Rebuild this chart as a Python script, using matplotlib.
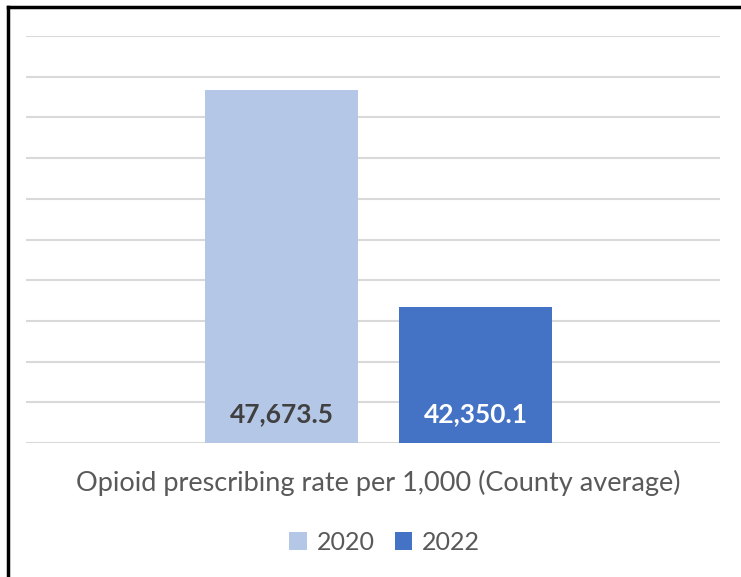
import matplotlib.pyplot as plt
from matplotlib.patches import Patch
from matplotlib.lines import Line2D

# data
series = ['2020', '2022']
values = [47673.5, 42350.1]
labels = ['47,673.5', '42,350.1']
colors = ['#b4c7e7', '#4472c4']
label_colors = ['#404040', '#ffffff']
category = 'Opioid prescribing rate per 1,000 (County average)'

plt.rcParams['font.family'] = ['Lato', 'DejaVu Sans']

fig = plt.figure(figsize=(7.41, 5.77), dpi=100)
ax = fig.add_axes([0.0351, 0.2322, 0.9366, 0.7054])

offsets = [-0.634, 0.634]
bars = ax.bar(offsets, [v - 39000 for v in values], bottom=39000, width=1.0,
              color=colors, zorder=3)

for x, lab, c in zip(offsets, labels, label_colors):
    ax.text(x, 39700, lab, ha='center', va='center', fontsize=19,
            fontweight='bold', color=c, zorder=4)

ax.set_ylim(39000, 49000)
ax.set_xlim(-2.306, 2.230)
ax.set_yticks(range(39000, 49001, 1000))
ax.set_yticklabels([])
ax.set_xticks([])
ax.tick_params(length=0)
ax.grid(axis='y', color='#d9d9d9', linewidth=1.5, zorder=0)
for s in ax.spines.values():
    s.set_visible(False)

fig.text(0.511, 1 - 483 / 577, category, ha='center', va='center',
         fontsize=19.5, color='#595959')

handles = [Patch(facecolor=c, label=s) for c, s in zip(colors, series)]
fig.legend(handles=handles, loc='center', bbox_to_anchor=(0.519, 1 - 542 / 577),
           ncol=2, frameon=False, fontsize=18, labelcolor='#595959',
           handlelength=0.7, handleheight=0.7, handletextpad=0.4,
           columnspacing=0.8)

# outer frame (left and top)
fig.add_artist(Line2D([8 / 741, 8 / 741], [0, 1 - 7 / 577], color='black',
                      linewidth=2.5, transform=fig.transFigure))
fig.add_artist(Line2D([8 / 741, 1], [1 - 7 / 577, 1 - 7 / 577], color='black',
                      linewidth=2.5, transform=fig.transFigure))

fig.savefig('out.png', dpi=100)
